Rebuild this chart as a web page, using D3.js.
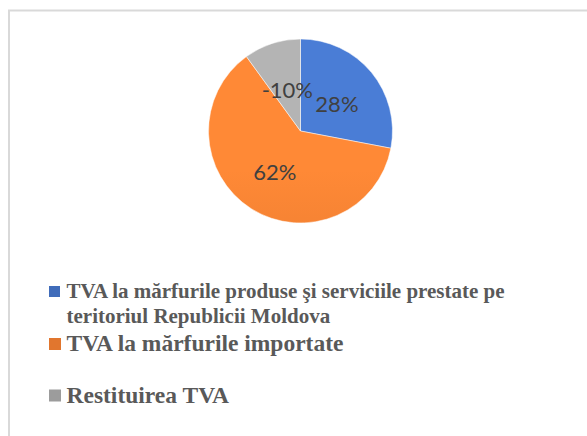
<!DOCTYPE html>
<meta charset="utf-8">
<title>TVA</title>
<style>
body{ margin:0; background:white; }
</style>
<body>
<script src="https://d3js.org/d3.v7.min.js"></script>
<script>

var categories = [
	['TVA la mărfurile produse şi serviciile prestate pe', 'teritoriul Republicii Moldova'],
	['TVA la mărfurile importate'],
	['Restituirea TVA']
];
var values = [28, 62, -10];
var labels = ['28%', '62%', '-10%'];
var colors = ['#4472C4', '#ED7D31', '#A5A5A5'];

var width = 587, height = 436;
var cx = 300.5, cy = 131, radius = 92;

var svg = d3.select('body').append('svg')
	.attr('width', width)
	.attr('height', height);

// chart border
svg.append('rect')
	.attr('x', 9).attr('y', 10.5)
	.attr('width', width).attr('height', height)
	.attr('fill', 'white')
	.attr('stroke', '#d9d9d9')
	.attr('stroke-width', 2);

var defs = svg.append('defs');
colors.forEach(function(c, i){
	var g = defs.append('linearGradient')
		.attr('id', 'grad' + i)
		.attr('gradientUnits', 'userSpaceOnUse')
		.attr('x1', 0).attr('y1', cy - radius)
		.attr('x2', 0).attr('y2', cy + radius);
	g.append('stop').attr('offset', 0).attr('stop-color', d3.color(c).brighter(0.25));
	g.append('stop').attr('offset', 1).attr('stop-color', d3.color(c).darker(0.15));
});

var pie = d3.pie()
	.value(function(d){ return Math.abs(d); })
	.sort(null);

var arc = d3.arc().innerRadius(0).outerRadius(radius);
var labelArc = d3.arc().innerRadius(radius * 0.5).outerRadius(radius * 0.5);

var gpie = svg.append('g').attr('transform', 'translate(' + cx + ',' + cy + ')');
var arcs = pie(values);

gpie.selectAll('path')
	.data(arcs)
	.enter()
	.append('path')
	.attr('d', arc)
	.attr('fill', function(d, i){ return 'url(#grad' + i + ')'; })
	.attr('stroke', 'white')
	.attr('stroke-width', 0.5);

var labelOffsets = [[1, 3], [-1, 2], [1, 3]];
gpie.selectAll('text')
	.data(arcs)
	.enter()
	.append('text')
	.attr('x', function(d, i){ return labelArc.centroid(d)[0] + labelOffsets[i][0]; })
	.attr('y', function(d, i){ return labelArc.centroid(d)[1] + labelOffsets[i][1]; })
	.attr('text-anchor', 'middle')
	.attr('dy', '0.35em')
	.attr('font-family', 'Lato, sans-serif')
	.attr('font-size', 22)
	.attr('fill', '#404040')
	.text(function(d, i){ return labels[i]; });

// legend
var legendY = [298, 351, 402.5];
var legendSize = [21, 23.5, 23.5];
var glegend = svg.append('g');

categories.forEach(function(lines, i){
	var s = i == 0 ? 11 : 12;
	glegend.append('rect')
		.attr('x', 49)
		.attr('y', legendY[i] - s - 1)
		.attr('width', s)
		.attr('height', s)
		.attr('fill', 'url(#grad' + i + ')');
	var t = glegend.append('text')
		.attr('x', 66.5)
		.attr('y', legendY[i])
		.attr('font-family', '"Liberation Serif", "Times New Roman", serif')
		.attr('font-weight', 'bold')
		.attr('font-size', legendSize[i])
		.attr('fill', '#595959');
	lines.forEach(function(l, j){
		t.append('tspan')
			.attr('x', 66.5)
			.attr('dy', j == 0 ? 0 : 24.5)
			.text(l);
	});
});

</script>
</body>
